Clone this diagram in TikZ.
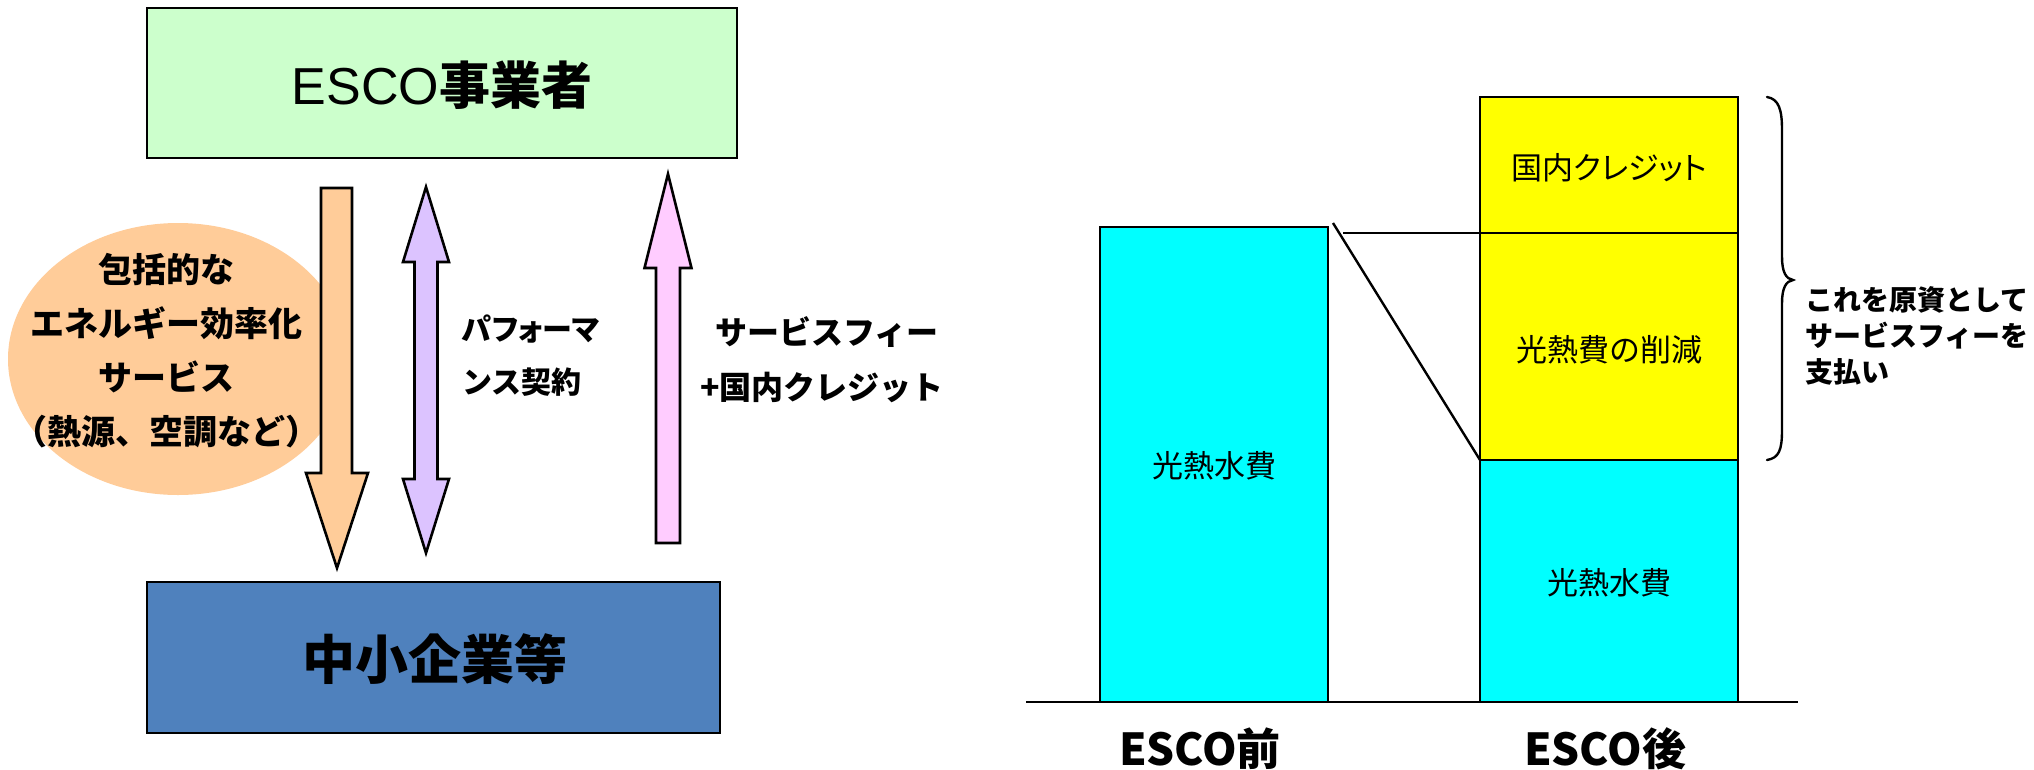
\documentclass[tikz,border=0pt]{standalone}
\usepackage{fontspec}
\setmainfont{Noto Sans CJK JP}
\newfontfamily\latinsans{Liberation Sans}
\newfontfamily\jpprop{Noto Sans CJK JP}[RawFeature=+palt]
\usetikzlibrary{shapes.geometric}
\newcommand\fsz[2]{\fontsize{#1pt}{#2pt}\selectfont}
\definecolor{boxgreen}{HTML}{CCFFCC}
\definecolor{boxblue}{HTML}{4F81BD}
\definecolor{peach}{HTML}{FFCC99}
\definecolor{lav}{HTML}{DCC3FF}
\definecolor{pinkish}{HTML}{FFCCFF}
\definecolor{barcyan}{HTML}{00FFFF}
\definecolor{baryellow}{HTML}{FFFF00}
\begin{document}
\begin{tikzpicture}[x=1pt,y=-1pt,
  blockbox/.style={draw=black, line width=2.6pt, inner sep=0pt},
  outline/.style={draw=black, line width=2.6pt, line join=miter},
  bar/.style={draw=black, line width=2.6pt},
  thinline/.style={draw=black, line width=2.4pt},
  lbl/.style={inner sep=0pt, align=center, text=black},
]
\useasboundingbox (0,0) rectangle (2034,769);
\fill[white] (0,0) rectangle (2034,769);

% ---- left part ----
\node[blockbox, fill=boxgreen, minimum width=590pt, minimum height=150pt] (esco) at (442,83) {};
\node[lbl] (escotxt) at (442,85) {{\latinsans\fsz{52}{52}ESCO}{\bfseries\fsz{51}{52}事業者}};

\node[blockbox, fill=boxblue, minimum width=573pt, minimum height=151pt] (sme) at (433.5,657.5) {};
\node[lbl] (smetxt) at (435,659) {\bfseries\fsz{53}{53}中小企業等};

\node[ellipse, fill=peach, minimum width=340pt, minimum height=272pt, inner sep=0pt] (svc) at (178,359) {};
\node[lbl, font=\bfseries\fsz{34}{54}] (svctxt) at (166,351) {包括的な\\エネルギー効率化\\サービス\\（熱源、空調など）};

% orange down arrow
\draw[outline, fill=peach] (321,188) -- (352,188) -- (352,473) -- (368,473) -- (337,568) -- (306,473) -- (321,473) -- cycle;
% purple double arrow
\draw[outline, fill=lav] (426,187) -- (449,262) -- (437.5,262) -- (437.5,479) -- (449,479) -- (426,553) -- (403,479) -- (414.5,479) -- (414.5,262) -- (403,262) -- cycle;
% pink up arrow
\draw[outline, fill=pinkish] (668,174) -- (691.5,268) -- (680,268) -- (680,543) -- (656,543) -- (656,268) -- (644.5,268) -- cycle;

\node[lbl, align=left, anchor=west, font=\bfseries\fsz{30}{53}] (perf) at (462,356) {{\jpprop パフォーマ}\\ンス契約};
\node[lbl, align=left, anchor=west, font=\bfseries\fsz{32}{55}] (fee) at (700,360) {\hspace*{15pt}サービスフィー\\+国内クレジット};

% ---- right part ----
\draw[bar, fill=barcyan] (1100,227) rectangle (1328,702);
\node[lbl, font=\fsz{31}{31}] (before) at (1214,466) {光熱水費};

\draw[bar, fill=baryellow] (1480,97) rectangle (1738,233);
\node[lbl, font=\jpprop\fsz{31}{31}] (credit) at (1609,168) {国内クレジット};
\draw[bar, fill=baryellow] (1480,233) rectangle (1738,460);
\node[lbl, font=\fsz{31}{31}] (saving) at (1609,350) {光熱費の削減};
\draw[bar, fill=barcyan] (1480,460) rectangle (1738,702);
\node[lbl, font=\fsz{31}{31}] (after) at (1609,583) {光熱水費};

\draw[black, line width=2.2pt] (1026,702) -- (1798,702);
\draw[thinline] (1333,223) -- (1480,460);
\draw[thinline] (1343,233) -- (1480,233);

% brace
\draw[black, line width=2.4pt, line cap=round]
  (1767,97) .. controls (1779,99) and (1782,110) .. (1782,130) -- (1782,257)
  .. controls (1782,272) and (1786,279) .. (1793,280)
  .. controls (1786,281) and (1782,288) .. (1782,303) -- (1782,430)
  .. controls (1782,450) and (1779,458) .. (1767,460);
\node[lbl, align=left, anchor=west, font=\bfseries\fsz{28}{36}] (fund) at (1805,336) {これを原資として\\サービスフィーを\\支払い};

\node[lbl, font=\bfseries\fsz{44}{44}] (lbefore) at (1200,749) {ESCO前};
\node[lbl, font=\bfseries\fsz{44}{44}] (lafter) at (1605,749) {ESCO後};
\end{tikzpicture}
\end{document}
